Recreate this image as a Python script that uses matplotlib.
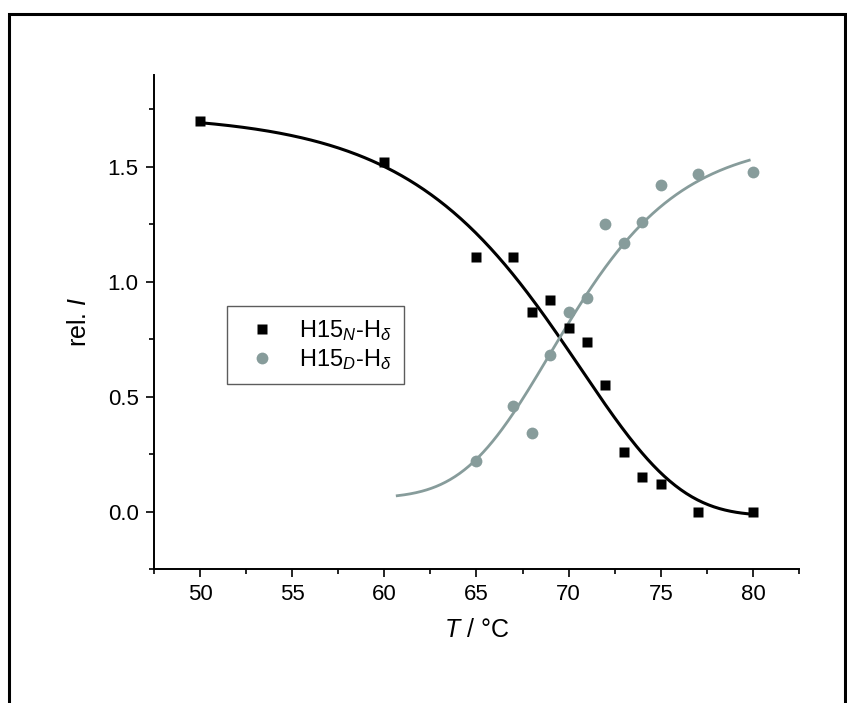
import matplotlib
matplotlib.use("Agg")
import matplotlib.pyplot as plt
import numpy as np
from matplotlib.patches import Rectangle
from matplotlib.ticker import FormatStrFormatter

plt.rcParams["font.family"] = ["Liberation Sans", "DejaVu Sans"]
plt.rcParams["mathtext.fontset"] = "custom"
plt.rcParams["mathtext.rm"] = "Liberation Sans"
plt.rcParams["mathtext.it"] = "Liberation Sans:italic"

GREY = "#879c9b"

# H15_N-H_delta (squares)
t_native = [50, 60, 65, 67, 68, 69, 70, 71, 72, 73, 74, 75, 77, 80]
i_native = [1.70, 1.52, 1.11, 1.11, 0.87, 0.92, 0.80, 0.74, 0.55, 0.26, 0.15, 0.12, 0.00, 0.00]
# H15_D-H_delta (circles)
t_denat = [65, 67, 68, 69, 70, 71, 72, 73, 74, 75, 77, 80]
i_denat = [0.22, 0.46, 0.34, 0.68, 0.87, 0.93, 1.25, 1.17, 1.26, 1.42, 1.47, 1.48]

# fitted sigmoid curves (parameters estimated from the drawn fit lines)
fit_native = dict(top=1.731, bottom=-0.018, xc=70.63, w=5.419)          # Gompertz
fit_denat = dict(a1=1.6228, a2=0.0577, x0=62.78, dx=-3.887, s=4.952)    # Richards
fit_range_native = (50.0, 80.0)
fit_range_denat = (60.7, 79.8)


def gompertz(x, top, bottom, xc, w):
    return bottom + (top - bottom) * np.exp(-np.exp((x - xc) / w))


def richards(x, a1, a2, x0, dx, s):
    return a2 + (a1 - a2) / (1 + np.exp((x - x0) / dx)) ** s


fig = plt.figure(figsize=(8.47, 7.03), dpi=100)
ax = fig.add_axes([0.1818, 0.1906, 0.7615, 0.7027])

xs = np.linspace(*fit_range_native, 300)
ax.plot(xs, gompertz(xs, **fit_native), color="black", lw=2.2, zorder=2)
xs = np.linspace(*fit_range_denat, 300)
ax.plot(xs, richards(xs, **fit_denat), color=GREY, lw=2.0, zorder=2)

ax.plot(t_native, i_native, ls="none", marker="s", ms=7.8, color="black",
        mec="none", label=r"H15$_{\mathit{N}}$-H$_{\delta}$", zorder=3)
ax.plot(t_denat, i_denat, ls="none", marker="o", ms=8.5, color=GREY,
        mec="none", label=r"H15$_{\mathit{D}}$-H$_{\delta}$", zorder=3)

ax.set_xlim(47.5, 82.5)
ax.set_ylim(-0.2, 1.9)
ax.set_xticks([50, 55, 60, 65, 70, 75, 80])
ax.set_xticks(np.arange(47.5, 83, 2.5), minor=True)
ax.set_yticks([0.0, 0.5, 1.0, 1.5])
ax.set_yticks([-0.25, 0.25, 0.75, 1.25, 1.75], minor=True)
ax.yaxis.set_major_formatter(FormatStrFormatter("%.1f"))

for side in ("top", "right"):
    ax.spines[side].set_visible(False)
for side in ("left", "bottom"):
    ax.spines[side].set_linewidth(1.4)
ax.tick_params(which="major", direction="out", length=6, width=1.2, labelsize=16, pad=5)
ax.tick_params(which="minor", direction="out", length=3.5, width=1.2)

ax.set_xlabel(r"$\mathit{T}$ / °C", fontsize=18, labelpad=9)
ax.set_ylabel(r"rel. $\mathit{I}$", fontsize=18, labelpad=12)

leg = ax.legend(loc="upper left", bbox_to_anchor=(0.268, 0.5647),
                bbox_transform=fig.transFigure, borderaxespad=0, fancybox=False,
                fontsize=17, handletextpad=0.57, borderpad=0.5, labelspacing=0.2,
                handlelength=2.0)
leg.get_frame().set_edgecolor("#333333")
leg.get_frame().set_linewidth(1.0)

# outer frame around the whole picture (bottom edge lies outside the image)
fig.patches.append(Rectangle((9 / 847, -0.05), 836 / 847, 1 - 14 / 703 + 0.05,
                             transform=fig.transFigure, fill=False,
                             edgecolor="black", lw=2.2, clip_on=False))

fig.savefig("out.png", dpi=100, facecolor="white")
